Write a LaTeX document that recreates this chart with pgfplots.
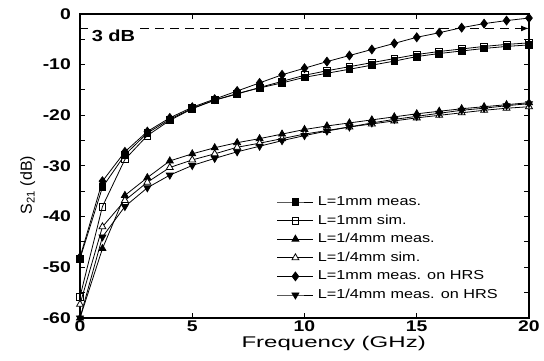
\documentclass[border=0pt]{standalone}
\usepackage{fontspec}
\setmainfont{Liberation Sans}[FakeStretch=1.25]
\newfontfamily\ylfont{Liberation Sans}
\newfontfamily\xlfont{Liberation Sans}[FakeStretch=1.55]
\usepackage{pgfplots}
\usepackage{pgfplotstable}
\pgfplotsset{compat=1.18}
\usetikzlibrary{arrows.meta}

\pgfplotstableread{
f  sqf    sqo    trf    tro    dif    dtr
0  -48.3  -55.8  -60.0  -57.3  -48.0  -60.0
1  -34.2  -38.0  -46.3  -42.0  -33.0  -44.0
2  -27.8  -28.7  -35.8  -36.8  -27.2  -38.0
3  -23.5  -24.0  -32.3  -33.2  -23.2  -34.3
4  -20.8  -21.0  -29.0  -30.3  -20.5  -31.8
5  -18.6  -18.7  -27.6  -28.8  -18.4  -29.9
6  -17.0  -17.0  -26.4  -27.6  -16.8  -28.5
7  -15.7  -15.8  -25.4  -26.3  -15.2  -27.2
8  -14.6  -14.5  -24.6  -25.5  -13.6  -26.1
9  -13.6  -13.3  -23.7  -24.6  -12.0  -25.0
10 -12.5  -12.1  -22.8  -23.7  -10.7  -24.0
11 -11.7  -11.2  -22.1  -23.0  -9.4   -23.1
12 -10.9  -10.4  -21.5  -22.3  -8.2   -22.3
13 -10.1  -9.6   -20.9  -21.7  -7.0   -21.5
14 -9.3   -8.8   -20.3  -21.1  -5.8   -20.8
15 -8.4   -8.0   -19.7  -20.5  -4.6   -20.2
16 -7.8   -7.4   -19.2  -20.0  -3.7   -19.6
17 -7.3   -6.9   -18.7  -19.5  -2.7   -19.0
18 -6.8   -6.4   -18.3  -19.0  -1.9   -18.6
19 -6.4   -6.0   -17.9  -18.6  -1.3   -18.1
20 -6.1   -5.7   -17.5  -18.3  -0.8   -17.7
}\datatab

\begin{document}
\begin{tikzpicture}
\begin{axis}[
  name=ax,
  scale only axis,
  width=449pt, height=304pt,
  xmin=0, xmax=20, ymin=-60, ymax=0,
  xtick={0,5,10,15,20},
  ytick={-60,-50,...,0},
  minor ytick={-55,-45,...,-5},
  tick align=inside,
  major tick length=5pt, minor tick length=5pt,
  every tick/.style={black, line width=1pt},
  axis line style={black, line width=1.3pt},
  clip=false,
  /pgf/number format/assume math mode=true,
  ticklabel style={font=\bfseries\fontsize{15.5}{15.5}\selectfont},
  xticklabel style={anchor=base, inner sep=0pt, yshift=-14pt},
  yticklabel style={anchor=east, inner sep=0pt, xshift=-9pt},
  xlabel={Frequency (GHz)},
  xlabel style={font=\xlfont\fontsize{15.5}{15.5}\selectfont, at={(axis description cs:0.565,0)}, anchor=base, inner sep=0pt, yshift=-30pt},
  ylabel={S\textsubscript{21} (dB)},
  ylabel style={font=\ylfont\fontsize{16}{16}\selectfont, at={(axis description cs:-0.107,0.4375)}, anchor=base, inner sep=0pt},
  every axis plot/.append style={black, line width=0.8pt, mark size=3.4pt},
  legend image code/.code={\draw[mark repeat=2,mark phase=2,#1] plot coordinates {(0pt,0pt) (18pt,0pt) (36pt,0pt)};},
  legend cell align=left,
  legend style={at={(axis description cs:0.4388,0.4013)}, anchor=north west, draw=none, fill=none,
    inner sep=0pt, outer sep=0pt, row sep=6.6pt, column sep=4pt,
    font=\fontsize{13}{13}\selectfont,
    nodes={inner xsep=0pt, inner ysep=0pt, text height=9.5pt, text depth=2.5pt}},
]
\addplot[mark=square*, mark options={solid, fill=black}] table[x=f, y=sqf] {\datatab};
\addlegendentry{L=1mm meas.}
\addplot[mark=square, mark options={solid, fill=white}] table[x=f, y=sqo] {\datatab};
\addlegendentry{L=1mm sim.}
\addplot[mark=triangle*, mark size=4pt, mark options={solid, fill=black}] table[x=f, y=trf] {\datatab};
\addlegendentry{L=1/4mm meas.}
\addplot[mark=triangle*, mark size=4pt, mark options={solid, fill=white}] table[x=f, y=tro] {\datatab};
\addlegendentry{L=1/4mm sim.}
\addplot[mark=diamond*, mark size=4.4pt, mark options={solid, fill=black}] table[x=f, y=dif] {\datatab};
\addlegendentry{L=1mm meas. on HRS}
\addplot[mark=triangle*, mark size=4pt, mark options={solid, fill=black, rotate=180}] table[x=f, y=dtr] {\datatab};
\addlegendentry{L=1/4mm meas. on HRS}
\addplot[black, line width=1.2pt, dash pattern=on 9pt off 6pt, -{Latex[length=8pt,width=6pt]}, forget plot, mark=none] coordinates {(0,-2.85) (20,-2.85)};
\node[fill=white, inner xsep=4pt, inner ysep=1.5pt, text height=14pt, anchor=base, font=\bfseries\fontsize{16}{16}\selectfont] at (axis cs:1.49,-5.46) {3 dB};
\end{axis}
\pgfresetboundingbox
\path (ax.south west) ++(-80pt,-43pt) rectangle ([xshift=15pt,yshift=14pt]ax.north east);
\end{tikzpicture}
\end{document}
